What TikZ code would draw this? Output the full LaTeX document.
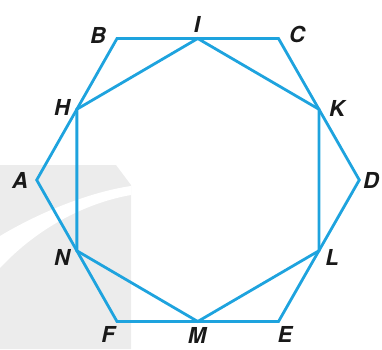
\documentclass[tikz,border=0pt]{standalone}
\usepackage{fontspec}
\setmainfont{TeX Gyre Heros}
\usetikzlibrary{calc}
\begin{document}
\begin{tikzpicture}[x=1pt,y=-1pt,
  edge/.style={draw=blueline,line width=2.8pt,line join=miter},
  lbl/.style={font=\fontsize{22}{22}\selectfont\bfseries\itshape,text=labelcol,inner sep=0pt}]
\definecolor{blueline}{RGB}{30,163,222}
\definecolor{labelcol}{RGB}{25,25,25}
\definecolor{wm}{RGB}{236,236,236}
\useasboundingbox (0,0) rectangle (382,349);
% watermark
\fill[wm] (0,165) -- (116,165) -- (131,185) -- (131,349) -- (0,349) -- cycle;
\fill[white] (0,236) .. controls (40,212) and (90,192) .. (131,186)
  -- (131,195) .. controls (90,202) and (40,225) .. (0,268) -- cycle;
% vertices
\coordinate (A) at (36.7,180);
\coordinate (B) at (117,38.5);
\coordinate (C) at (278.5,38.5);
\coordinate (D) at (359.3,180);
\coordinate (E) at (278.5,321.5);
\coordinate (F) at (117,321.5);
\coordinate (I) at ($(B)!0.5!(C)$);
\coordinate (M) at ($(F)!0.5!(E)$);
\coordinate (H) at ($(A)!0.5!(B)$);
\coordinate (N) at ($(A)!0.5!(F)$);
\coordinate (K) at ($(C)!0.5!(D)$);
\coordinate (L) at ($(E)!0.5!(D)$);
\draw[edge] (A) -- (B) -- (C) -- (D) -- (E) -- (F) -- cycle;
\draw[edge] (H) -- (I) -- (K) -- (L) -- (M) -- (N) -- cycle;
% labels
\node[lbl] (lB) at (98,35) {B};
\node[lbl] (lI) at (197,24) {I};
\node[lbl] (lC) at (297,34) {C};
\node[lbl] (lH) at (62,107) {H};
\node[lbl] (lK) at (337,108) {K};
\node[lbl] (lA) at (20,180) {A};
\node[lbl] (lD) at (371,180) {D};
\node[lbl] (lN) at (62,257) {N};
\node[lbl] (lL) at (332,257) {L};
\node[lbl] (lF) at (108,334) {F};
\node[lbl] (lM) at (197,335) {M};
\node[lbl] (lE) at (285,334) {E};
\end{tikzpicture}
\end{document}
